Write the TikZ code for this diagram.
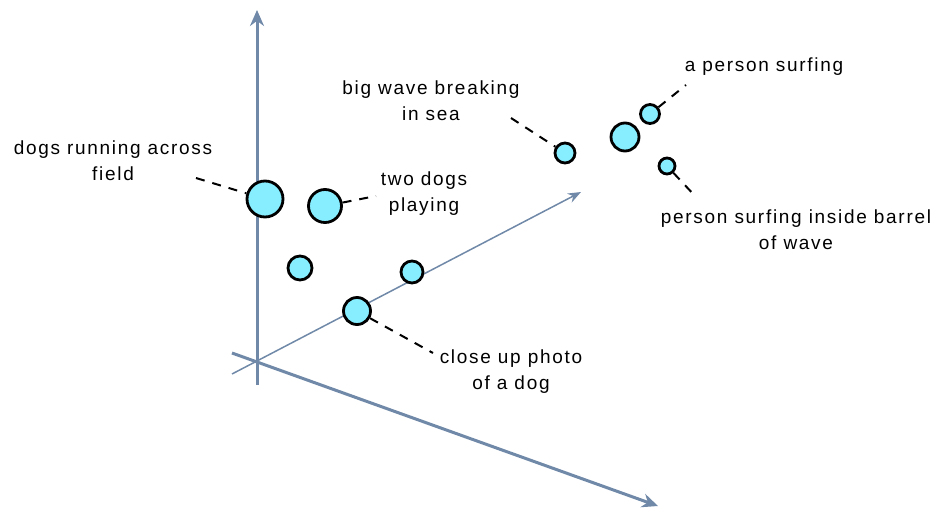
\documentclass[tikz,border=0pt]{standalone}
\usepackage{fontspec}
\setmainfont{Liberation Sans}[LetterSpace=9]
\usetikzlibrary{arrows.meta}
\definecolor{axisc}{RGB}{112,137,168}
\definecolor{dotc}{RGB}{135,238,255}
\tikzset{
  axisthick/.style={draw=axisc, line width=3pt, -{Stealth[length=16pt,width=14pt]}},
  axisthin/.style={draw=axisc, line width=1.5pt, -{Stealth[length=13pt,width=10pt]}},
  dot/.style={circle, draw=black, line width=2.8pt, fill=dotc, inner sep=0pt},
  lbl/.style={align=center, font=\fontsize{19}{26}\selectfont, inner sep=0pt},
  lead/.style={draw=black, line width=2pt, dash pattern=on 9pt off 8pt},
}
\begin{document}
\begin{tikzpicture}[x=1pt,y=-1pt]
\useasboundingbox (0,0) rectangle (940,512);
% axes
\coordinate (vb) at (257,385);
\coordinate (vt) at (257,10);
\coordinate (la) at (232,353);
\coordinate (lb) at (658,506);
\coordinate (ta) at (232,374);
\coordinate (tb) at (581,192);
\draw[axisthin] (ta) -- (tb);
\draw[axisthick] (la) -- (lb);
\draw[axisthick] (vb) -- (vt);
% dots
\node[dot, minimum size=36pt] (d1) at (265,199) {};
\node[dot, minimum size=33pt] (d2) at (325,206) {};
\node[dot, minimum size=24pt] (d3) at (300,268) {};
\node[dot, minimum size=22pt] (d4) at (412,272) {};
\node[dot, minimum size=27pt] (d5) at (357,311) {};
\node[dot, minimum size=20pt] (d6) at (565,153) {};
\node[dot, minimum size=28pt] (d7) at (625,137) {};
\node[dot, minimum size=19pt] (d8) at (650,114) {};
\node[dot, minimum size=16pt] (d9) at (667,166) {};
% labels
\node[lbl] (l1) at (113,161) {dogs running across\\field};
\node[lbl] (l2) at (424,194) {two dogs\\playing};
\node[lbl] (l5) at (511,372) {close up photo\\of a dog};
\node[lbl] (l6) at (431,101) {big wave breaking\\in sea};
\node[lbl] (l8) at (764,67) {a person surfing};
\node[lbl] (l9) at (796,230) {person surfing inside barrel\\of wave};
% leaders
\coordinate (c1) at (196,178);
\coordinate (c2) at (376,196);
\coordinate (c5) at (433,353);
\coordinate (c6) at (511,118);
\coordinate (c8) at (686,85);
\coordinate (c9) at (696,197);
\draw[lead] (c1) -- (d1);
\draw[lead] (d2) -- (c2);
\draw[lead] (d5) -- (c5);
\draw[lead] (c6) -- (d6);
\draw[lead] (d8) -- (c8);
\draw[lead] (d9) -- (c9);
\end{tikzpicture}
\end{document}
